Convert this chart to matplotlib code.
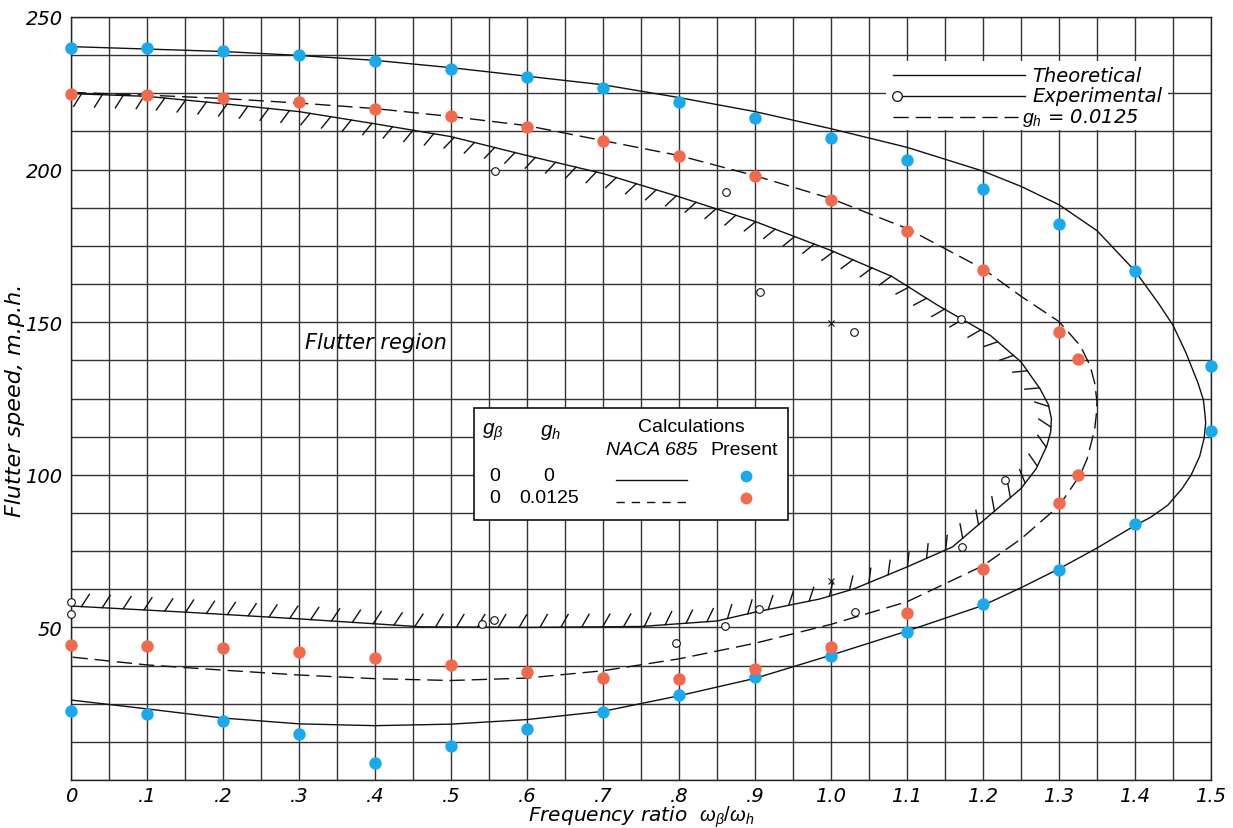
import numpy as np
import matplotlib
matplotlib.use("Agg")
import matplotlib.pyplot as plt
import matplotlib.patheffects as pe
from matplotlib.patches import Rectangle
from matplotlib.ticker import MultipleLocator

plt.rcParams['mathtext.fontset'] = 'custom'
plt.rcParams['mathtext.rm'] = 'Liberation Sans'
plt.rcParams['mathtext.it'] = 'Liberation Sans:italic'

BLUE = '#1aa9ec'
ORANGE = '#f26a4e'

# present calculations, g_beta = 0, g_h = 0 (blue dots)
blue_x = [0, .1, .2, .3, .4, .5, .6, .7, .8, .9, 1.0, 1.1, 1.2, 1.3, 1.4, 1.5]
blue_upper = [240.0, 239.7, 238.7, 237.4, 235.7, 233.1, 230.4, 226.7, 222.3, 216.8,
              210.5, 203.0, 193.8, 182.3, 166.8, 135.7]
blue_lower = [22.6, 21.6, 19.3, 15.1, 5.6, 11.1, 16.7, 22.3, 27.9, 33.8,
              40.5, 48.5, 57.7, 68.9, 83.9, 114.4]

# present calculations, g_beta = 0, g_h = 0.0125 (orange dots)
orange_x = [0, .1, .2, .3, .4, .5, .6, .7, .8, .9, 1.0, 1.1, 1.2, 1.3, 1.325]
orange_upper = [224.9, 224.6, 223.5, 222.0, 220.0, 217.4, 213.8, 209.5, 204.4, 198.0,
                190.2, 180.0, 167.2, 146.8, 138.0]
orange_lower = [44.3, 43.9, 43.3, 42.0, 40.0, 37.6, 35.5, 33.5, 33.1, 36.4,
                43.6, 54.8, 69.2, 90.8, 99.8]

# NACA 685 theoretical boundary, g_h = 0 (solid)
theory_x = [0, .1, .2, .3, .4, .5, .6, .7, .8, .9, 1.0, 1.1, 1.2, 1.25, 1.3, 1.35,
            1.4, 1.43, 1.45, 1.467, 1.483, 1.49, 1.492, 1.493, 1.491, 1.485, 1.474,
            1.462, 1.443, 1.42, 1.4, 1.35, 1.3, 1.25, 1.2, 1.1, 1.0, .9, .8, .7,
            .6, .5, .4, .3, .2, .1, 0]
theory_y = [240.3, 239.5, 238.7, 237.4, 235.8, 233.4, 230.6, 227.8, 223.6, 219.0,
            213.4, 207.3, 199.5, 194.5, 188.5, 180.0, 166.8, 156.5, 149.0, 140.0,
            130.0, 124.5, 120.0, 117.0, 112.0, 106.0, 100.0, 95.5, 90.0, 86.0,
            83.4, 76.0, 69.2, 63.0, 57.2, 48.8, 40.9, 33.3, 27.6, 22.5, 19.8,
            18.3, 17.8, 18.4, 20.3, 23.3, 26.2]

# NACA 685 theoretical boundary, g_h = 0.0125 (dashed)
damped_x = [0, .1, .2, .3, .4, .5, .6, .7, .8, .9, 1.0, 1.1, 1.2, 1.25, 1.3, 1.328,
            1.341, 1.347, 1.35, 1.349, 1.347, 1.337, 1.328, 1.3, 1.25, 1.2, 1.1,
            1.0, .9, .8, .7, .6, .5, .4, .3, .2, .1, 0]
damped_y = [225.3, 224.4, 223.3, 221.8, 220.0, 217.4, 214.4, 209.5, 204.6, 198.0,
            190.5, 180.7, 167.5, 158.5, 150.2, 142.3, 135.7, 130.0, 124.0, 119.5,
            115.0, 105.2, 100.0, 89.8, 79.0, 70.2, 58.4, 51.0, 44.8, 39.7, 35.8,
            33.4, 32.6, 33.2, 34.4, 36.0, 37.7, 40.3]

# experimental flutter boundary (hatched)
exp_x = [0, .1, .2, .3, .4, .5, .6, .7, .8, .9, 1.0, 1.08, 1.14, 1.21, 1.25, 1.275,
         1.286, 1.29, 1.289, 1.284, 1.27, 1.25, 1.2, 1.16, 1.1, 1.03, .985, .9,
         .85, .75, .6, .46, .3, .15, 0]
exp_y = [224.9, 224.0, 221.6, 219.0, 215.0, 210.8, 204.6, 198.7, 191.1, 183.0,
         173.5, 165.0, 155.6, 145.6, 137.0, 128.2, 123.0, 118.4, 114.0, 109.5,
         102.0, 95.5, 84.9, 76.4, 69.8, 62.6, 59.3, 55.0, 52.1, 50.3, 50.0,
         50.2, 52.8, 55.0, 57.0]

# experimental points
circ_x = [0, 0, .558, .862, .907, 1.03, 1.171, 1.229, 1.172, 1.031, .905, .861,
          .796, .557, .541]
circ_y = [58.4, 54.4, 199.7, 192.5, 160.0, 146.9, 151.1, 98.4, 76.4, 55.1, 56.1,
          50.5, 44.9, 52.5, 51.1]
cross_x = [1.0, 1.0]
cross_y = [149.8, 65.3]

x_ticks = [0, .1, .2, .3, .4, .5, .6, .7, .8, .9, 1.0, 1.1, 1.2, 1.3, 1.4, 1.5]
x_tick_labels = ['0', '.1', '.2', '.3', '.4', '.5', '.6', '.7', '.8', '.9',
                 '1.0', '1.1', '1.2', '1.3', '1.4', '1.5']
y_ticks = [50, 100, 150, 200, 250]

W, H = 1233, 829
fig = plt.figure(figsize=(W / 100, H / 100), dpi=100)
ax = fig.add_axes([71 / W, 48 / H, 1140 / W, 763 / H])
ax.set_xlim(0, 1.5)
ax.set_ylim(0, 250)

hand = dict(family='DejaVu Sans', style='italic')

ax.set_xticks(x_ticks)
ax.set_xticklabels(x_tick_labels, fontsize=14, **hand)
ax.set_yticks(y_ticks)
ax.set_yticklabels([str(v) for v in y_ticks], fontsize=14, **hand)
ax.xaxis.set_minor_locator(MultipleLocator(0.05))
ax.yaxis.set_minor_locator(MultipleLocator(12.5))
ax.tick_params(which='both', length=0)
ax.tick_params(axis='x', pad=4)
ax.tick_params(axis='y', pad=6)
ax.grid(which='both', color='#333333', lw=1.0)
ax.set_axisbelow(True)
for s in ax.spines.values():
    s.set_color('#222')
    s.set_linewidth(1.0)

ax.set_xlabel(r'Frequency ratio  $\omega_\beta / \omega_h$', fontsize=14.5, **hand)
ax.xaxis.set_label_coords(0.5, -0.031)
ax.set_ylabel('Flutter speed, m.p.h.', fontsize=16, **hand)
ax.yaxis.set_label_coords(-0.04, 0.499)

# curves
ax.plot(theory_x, theory_y, color='#111', lw=1.0, zorder=3)
ax.plot(damped_x, damped_y, color='#111', lw=1.0, dashes=(11, 5), zorder=3)
ax.plot(exp_x, exp_y, color='#111', lw=1.0, zorder=3,
        path_effects=[pe.withTickedStroke(angle=-120, spacing=15, length=0.7)])

ax.plot(circ_x, circ_y, 'o', ms=5.5, mfc='white', mec='#111', mew=0.8,
        zorder=4, clip_on=False)
ax.plot(cross_x, cross_y, 'x', ms=4.5, color='#111', mew=0.8, zorder=4)

ax.scatter(blue_x, blue_upper, s=80, color=BLUE, lw=0, zorder=5, clip_on=False)
ax.scatter(blue_x, blue_lower, s=80, color=BLUE, lw=0, zorder=5, clip_on=False)
ax.scatter(orange_x, orange_upper, s=80, color=ORANGE, lw=0, zorder=5, clip_on=False)
ax.scatter(orange_x, orange_lower, s=80, color=ORANGE, lw=0, zorder=5, clip_on=False)

ax.text(0.308, 143.6, 'Flutter region', fontsize=15, ha='left', va='center',
        zorder=6, **hand)

# helper: pixel position in the reference -> figure fraction
def fx(px):
    return px / W

def fy(py):
    return 1 - py / H

# top-right key
fig.patches.append(Rectangle((fx(886), fy(131)), fx(1168) - fx(886), fy(62) - fy(131),
                             transform=fig.transFigure, facecolor='white',
                             edgecolor='none', zorder=7))
fig.lines.append(plt.Line2D([fx(893), fx(1025)], [fy(76), fy(76)], color='#111',
                            lw=1.0, transform=fig.transFigure, zorder=8))
fig.lines.append(plt.Line2D([fx(902), fx(1025)], [fy(97), fy(97)], color='#111',
                            lw=1.0, transform=fig.transFigure, zorder=8))
fig.lines.append(plt.Line2D([fx(897)], [fy(97)], marker='o', ms=7, mfc='white',
                            mec='#111', mew=0.9, transform=fig.transFigure, zorder=8))
fig.lines.append(plt.Line2D([fx(893), fx(1018)], [fy(118), fy(118)], color='#111',
                            lw=1.0, dashes=(11, 5), transform=fig.transFigure, zorder=8))
fig.text(fx(1032), fy(76), 'Theoretical', fontsize=14, va='center', zorder=9, **hand)
fig.text(fx(1032), fy(97), 'Experimental', fontsize=14, va='center', zorder=9, **hand)
fig.text(fx(1022), fy(118), r'$g_h$ = 0.0125', fontsize=14, va='center', zorder=9, **hand)

# centre key
sans = dict(family='Liberation Sans')
fig.patches.append(Rectangle((fx(474), fy(521)), fx(788) - fx(474), fy(409) - fy(521),
                             transform=fig.transFigure, facecolor='white',
                             edgecolor='#111', lw=1.2, zorder=7))
fig.text(fx(493), fy(432), r'$g_\beta$', fontsize=15, ha='center', va='center', zorder=9)
fig.text(fx(551), fy(432), r'$g_h$', fontsize=15, ha='center', va='center', zorder=9)
fig.text(fx(691), fy(427), 'Calculations', fontsize=14, ha='center', va='center',
         zorder=9, **sans)
fig.text(fx(652), fy(451), 'NACA 685', fontsize=14, ha='center', va='center',
         style='italic', zorder=9, **sans)
fig.text(fx(744), fy(451), 'Present', fontsize=14, ha='center', va='center', zorder=9, **sans)
fig.text(fx(495), fy(477), '0', fontsize=14, ha='center', va='center', zorder=9, **sans)
fig.text(fx(549), fy(477), '0', fontsize=14, ha='center', va='center', zorder=9, **sans)
fig.text(fx(495), fy(499), '0', fontsize=14, ha='center', va='center', zorder=9, **sans)
fig.text(fx(549), fy(499), '0.0125', fontsize=14, ha='center', va='center', zorder=9, **sans)
fig.lines.append(plt.Line2D([fx(616), fx(687)], [fy(481), fy(481)], color='#111',
                            lw=1.0, transform=fig.transFigure, zorder=8))
fig.lines.append(plt.Line2D([fx(616), fx(687)], [fy(503), fy(503)], color='#111',
                            lw=1.0, dashes=(6, 5), transform=fig.transFigure, zorder=8))
fig.lines.append(plt.Line2D([fx(746)], [fy(477)], marker='o', ms=8.5, color=BLUE,
                            mew=0, transform=fig.transFigure, zorder=8))
fig.lines.append(plt.Line2D([fx(746)], [fy(499)], marker='o', ms=8.5, color=ORANGE,
                            mew=0, transform=fig.transFigure, zorder=8))

fig.savefig('out.png', dpi=100, facecolor='white')
